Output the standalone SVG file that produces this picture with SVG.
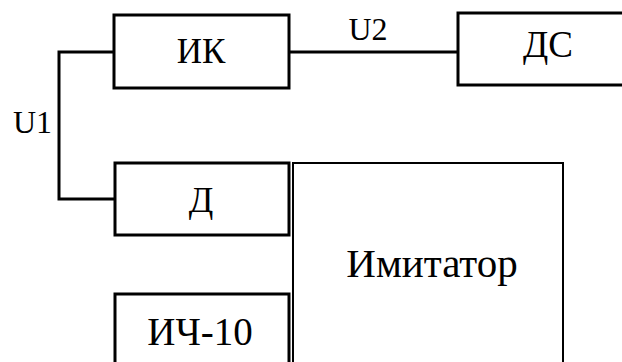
<svg xmlns="http://www.w3.org/2000/svg" width="622" height="362" viewBox="0 0 622 362">
  <style>
    .box { fill: #fff; stroke: #000; stroke-width: 3; }
    .thin { fill: #fff; stroke: #000; stroke-width: 2; }
    .wire { fill: none; stroke: #000; stroke-width: 3; }
    .lbl { text-anchor: middle; }
  </style>
  <rect width="622" height="362" fill="#fff"/>

  <g font-family="'Liberation Serif', 'Times New Roman', serif" fill="#000">
    <!-- signal lines and their labels -->
    <g id="connectors">
      <path class="wire" d="M114,52 H59 V199 H115"/>
      <line class="wire" x1="289" y1="52" x2="458" y2="52"/>
      <text x="13" y="133" font-size="32">U1</text>
      <text x="368" y="40" font-size="32" class="lbl">U2</text>
    </g>

    <g id="ik">
      <rect class="box" x="114" y="15" width="175" height="73"/>
      <text x="201" y="63" font-size="35" class="lbl">ИК</text>
    </g>

    <g id="ds">
      <rect class="box" x="458" y="13" width="200" height="72"/>
      <text x="548" y="57" font-size="37" class="lbl">ДС</text>
    </g>

    <g id="d">
      <rect class="box" x="115" y="163" width="174" height="72"/>
      <text x="201" y="212" font-size="36" class="lbl">Д</text>
    </g>

    <g id="imitator">
      <rect class="thin" x="293" y="163" width="270" height="220"/>
      <text x="432" y="277" font-size="41" class="lbl">Имитатор</text>
    </g>

    <g id="ich10">
      <rect class="box" x="115" y="294" width="174" height="90"/>
      <text x="200" y="345" font-size="39" class="lbl">ИЧ-10</text>
    </g>
  </g>
</svg>
